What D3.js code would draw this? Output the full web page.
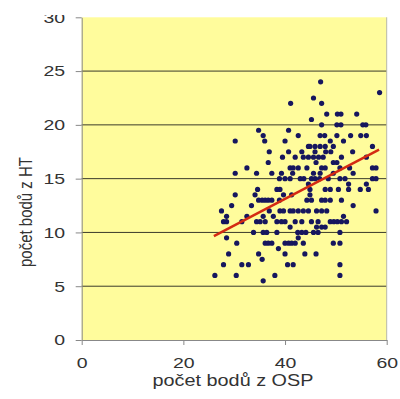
<!DOCTYPE html>
<html><head><meta charset="utf-8">
<script src="https://cdn.jsdelivr.net/npm/d3@7"></script>
<style>body{margin:0;background:#fff}svg{display:block}</style>
</head><body><svg id="c" width="400" height="399"></svg>
<script>
const xTicks = [0, 20, 40, 60];
const yTicks = [0, 5, 10, 15, 20, 25, 30];
const xLabel = "počet bodů z OSP";
const yLabel = "počet bodů z HT";
const trendX = [26, 58.5];
const trendY = [9.65, 17.7];
const osp = [
47.0, 58.6, 45.6, 41.1, 47.2,
48.2, 50.3, 51.0, 54.1, 45.2,
47.2, 50.2, 51.0, 55.3, 55.9,
34.8, 40.7,
35.7, 42.6, 46.9, 47.8, 50.2, 52.9, 54.9, 56.0,
30.2, 36.0, 40.0, 48.9, 51.5,
44.6, 44.9, 45.9, 46.9, 47.9, 49.5, 57.2,
36.9, 40.7, 43.3, 45.9, 48.0, 49.0, 53.3,
39.5, 42.0, 43.6, 44.6, 45.6, 46.6, 47.5, 51.1, 56.0,
36.7, 46.1, 49.5, 50.2,
32.5, 41.0, 41.6, 42.6, 44.3, 47.2, 47.9, 50.8, 52.7, 57.2, 57.9,
30.2, 34.4, 37.4, 39.3, 41.5, 45.6, 46.9, 49.5, 53.4,
38.9, 40.0, 41.0, 43.0, 43.7, 45.2, 45.9, 46.8, 48.5, 50.8, 51.8, 57.2, 57.9,
44.6, 52.5, 56.0,
34.6, 38.4, 39.0, 44.9, 47.9, 48.9, 50.5, 52.5, 54.8, 56.4,
30.2, 34.1, 39.7, 41.3, 44.9,
34.8, 35.5, 36.1, 36.7, 37.4, 38.9, 44.3, 45.2, 47.2, 47.9, 48.9, 51.1,
29.5, 33.4, 53.4,
27.5, 36.9, 39.0, 39.7, 41.0, 41.6, 42.6, 43.6, 44.6, 46.2, 47.2, 48.2, 57.9,
28.5, 32.5, 35.7, 37.7, 51.5,
27.9, 28.5, 31.5, 34.4, 35.1, 36.1, 38.4, 39.3, 40.0, 42.0, 43.3, 45.2, 46.5, 48.9, 49.6, 50.3, 51.1, 52.1,
41.0, 46.2, 47.2, 47.9,
33.8, 35.7, 36.4, 38.4, 42.5, 43.3, 44.1, 45.6, 46.5, 50.8,
28.5, 42.6,
30.5, 36.1, 36.7, 37.4, 40.0, 40.7, 41.3, 42.0, 43.6, 49.5, 50.8,
38.7,
28.9, 34.8, 40.0, 43.9, 46.1,
35.5,
27.9, 31.5, 32.8, 40.5, 41.6, 50.8,
26.2, 30.4, 38.0, 50.8,
35.7
];
const ht = [
24, 23, 22.5, 22, 22,
21, 21, 21, 21, 20.5,
20, 20, 20, 20, 20,
19.5, 19.5,
19, 19, 19, 19, 19, 19, 19, 19,
18.5, 18.5, 18.5, 18.5, 18.5,
18, 18, 18, 18, 18, 18, 18,
17.5, 17.5, 17.5, 17.5, 17.5, 17.5, 17.5,
17, 17, 17, 17, 17, 17, 17, 17, 17,
16.5, 16.5, 16.5, 16.5,
16, 16, 16, 16, 16, 16, 16, 16, 16, 16, 16,
15.5, 15.5, 15.5, 15.5, 15.5, 15.5, 15.5, 15.5, 15.5,
15, 15, 15, 15, 15, 15, 15, 15, 15, 15, 15, 15, 15,
14.5, 14.5, 14.5,
14, 14, 14, 14, 14, 14, 14, 14, 14, 14,
13.5, 13.5, 13.5, 13.5, 13.5,
13, 13, 13, 13, 13, 13, 13, 13, 13, 13, 13, 13,
12.5, 12.5, 12.5,
12, 12, 12, 12, 12, 12, 12, 12, 12, 12, 12, 12, 12,
11.5, 11.5, 11.5, 11.5, 11.5,
11, 11, 11, 11, 11, 11, 11, 11, 11, 11, 11, 11, 11, 11, 11, 11, 11, 11,
10.5, 10.5, 10.5, 10.5,
10, 10, 10, 10, 10, 10, 10, 10, 10, 10,
9.5, 9.5,
9, 9, 9, 9, 9, 9, 9, 9, 9, 9, 9,
8.5,
8, 8, 8, 8, 8,
7.5,
7, 7, 7, 7, 7, 7,
6, 6, 6, 6,
5.5
];

const svg = d3.select("#c");
const x = d3.scaleLinear().domain([0, 60]).range([81.7, 386.7]);
const y = d3.scaleLinear().domain([0, 30]).range([340, 17.3]);
const font = "Arial, 'Liberation Sans', sans-serif";
const SX = 1.3;

svg.append("rect").attr("x", x(0)).attr("y", y(30))
  .attr("width", x(60) - x(0)).attr("height", y(0) - y(30)).attr("fill", "#FFFC9C");

// gridlines
svg.append("g").selectAll("line").data(yTicks.filter(d => d > 0 && d < 30)).join("line")
  .attr("x1", x(0)).attr("x2", x(60)).attr("y1", d => y(d)).attr("y2", d => y(d))
  .attr("stroke", "#3a3a2a").attr("stroke-width", 1);

// right border
svg.append("line").attr("x1", x(60)).attr("x2", x(60)).attr("y1", y(30)).attr("y2", y(0))
  .attr("stroke", "#b8b8a8").attr("stroke-width", 1);

// axes
const yAxis = svg.append("g").attr("transform", `translate(${x(0)},0)`)
  .call(d3.axisLeft(y).tickValues(yTicks).tickSize(6).tickPadding(10).tickSizeOuter(0));
const xAxis = svg.append("g").attr("transform", `translate(0,${y(0)})`)
  .call(d3.axisBottom(x).tickValues(xTicks).tickSize(5).tickPadding(12).tickSizeOuter(0));
[yAxis, xAxis].forEach(a => {
  a.select(".domain").attr("stroke", "#888");
  a.selectAll(".tick line").attr("stroke", "#888");
  a.selectAll(".tick text").attr("fill", "#333").attr("font-size", 15).attr("font-family", font);
});
yAxis.selectAll(".tick text").attr("x", -16.5 / SX).attr("transform", `scale(${SX},1)`);
xAxis.selectAll(".tick text").attr("transform", `scale(${SX},1)`);

// scatter points
const pts = osp.map((v, i) => ({ x: v, y: ht[i] }));
svg.append("g").selectAll("circle").data(pts).join("circle")
  .attr("cx", d => x(d.x)).attr("cy", d => y(d.y)).attr("r", 2.6)
  .attr("fill", "#16165e");

// trend line
svg.append("path")
  .datum(trendX.map((v, i) => [v, trendY[i]]))
  .attr("d", d3.line().x(d => x(d[0])).y(d => y(d[1])))
  .attr("stroke", "#d42a12").attr("stroke-width", 2.5).attr("fill", "none");

// clip top of "30" label like reference
svg.append("rect").attr("x", 0).attr("y", 0).attr("width", 78).attr("height", 15).attr("fill", "#fff");

// axis titles
svg.append("text").attr("transform", "translate(233,386) scale(1.24,1)").attr("text-anchor", "middle")
  .attr("font-size", 16).attr("font-family", font).attr("fill", "#333").text(xLabel);
svg.append("text").attr("transform", "translate(32,212) rotate(-90) scale(1,1.2)").attr("text-anchor", "middle")
  .attr("font-size", 15).attr("font-family", font).attr("fill", "#333").text(yLabel);
</script></body></html>
